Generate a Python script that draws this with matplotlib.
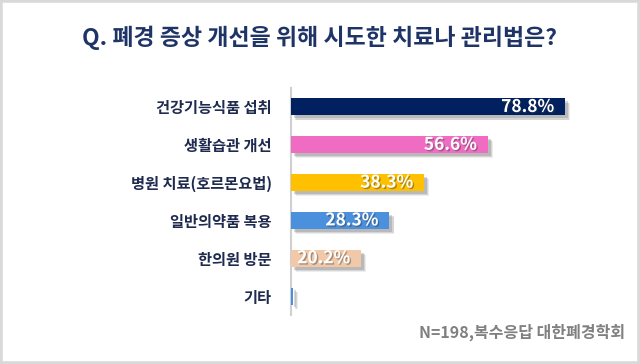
import matplotlib
matplotlib.use("Agg")
import matplotlib.pyplot as plt
import matplotlib.patheffects as pe
from matplotlib.patches import Rectangle

plt.rcParams['font.family'] = ['Noto Sans CJK KR', 'DejaVu Sans']

title = "Q. 폐경 증상 개선을 위해 시도한 치료나 관리법은?"
categories = ["건강기능식품 섭취", "생활습관 개선", "병원 치료(호르몬요법)",
              "일반의약품 복용", "한의원 방문", "기타"]
values = [78.8, 56.6, 38.3, 28.3, 20.2, 0.5]
value_labels = ["78.8%", "56.6%", "38.3%", "28.3%", "20.2%", ""]
colors = ["#002060", "#F06CC3", "#FFC000", "#4A90DC", "#F2C9A8", "#4A90DC"]
footer = "N=198,복수응답 대한폐경학회"

W, H = 640, 364
fig = plt.figure(figsize=(W / 100, H / 100), dpi=100)
fig.patch.set_facecolor("white")

ax_left, ax_top, ax_bottom = 291, 88, 315
xmax = 90
px_per_unit = 3.48
ax = fig.add_axes([ax_left / W, 1 - ax_bottom / H,
                   xmax * px_per_unit / W, (ax_bottom - ax_top) / H])

ypos = list(range(len(categories)))
bars = ax.barh(ypos, values, height=0.45, color=colors, zorder=3)
shadow = [pe.SimplePatchShadow(offset=(3.5, -3.5), shadow_rgbFace="#888888", alpha=0.15),
          pe.SimplePatchShadow(offset=(3, -3), shadow_rgbFace="#777777", alpha=0.2),
          pe.SimplePatchShadow(offset=(2, -2), shadow_rgbFace="#666666", alpha=0.25),
          pe.Normal()]
for b in bars:
    b.set_path_effects(shadow)

ax.set_xlim(0, xmax)
ax.set_ylim(len(categories) - 0.5, -0.5)
ax.set_yticks(ypos)
ax.set_yticklabels(categories, fontsize=11, fontweight="bold", color="#1F2A4F")
ax.tick_params(axis="y", length=0, pad=14)
ax.set_xticks([])
for s in ["top", "right", "bottom"]:
    ax.spines[s].set_visible(False)
ax.spines["left"].set_color("#D0D0D0")
ax.spines["left"].set_linewidth(1.5)
ax.set_facecolor("none")

for y, v, lab in zip(ypos, values, value_labels):
    if not lab:
        continue
    t = ax.annotate(lab, xy=(v, y), xytext=(-8, 0), textcoords="offset points",
                    ha="right", va="center", fontsize=12.5, fontweight="bold",
                    color="white", zorder=5)
    t.set_path_effects([pe.SimplePatchShadow(offset=(1, -1), shadow_rgbFace="#333333", alpha=0.4),
                        pe.Normal()])

fig.text(320 / W, 1 - 38 / H, title, ha="center", va="center", fontsize=16.5,
         fontweight="bold", color="#1F3466")
fig.text(625 / W, 1 - 332 / H, footer, ha="right", va="center", fontsize=11.5,
         fontweight="bold", color="#808080")

fig.add_artist(Rectangle((0, 0), 1, 1, transform=fig.transFigure, fill=False,
                         edgecolor="#D9D9D9", linewidth=4))

fig.savefig("out.png", dpi=100, facecolor="white")
